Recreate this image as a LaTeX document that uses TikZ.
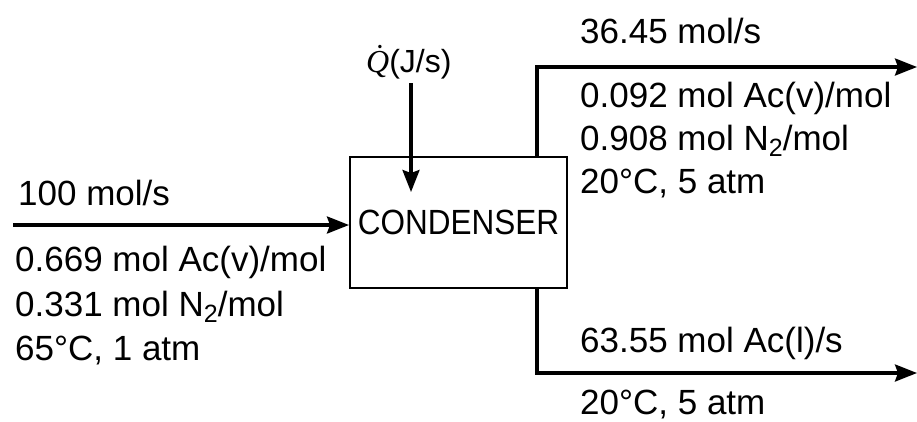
\documentclass[tikz,border=0pt]{standalone}
\usepackage{fontspec}
\setmainfont{Liberation Sans}
\newfontfamily\condfont[FakeStretch=0.9]{Liberation Sans}
\newfontfamily\qfont{Liberation Serif}
\usetikzlibrary{arrows.meta}
\tikzset{
  lbl/.style={anchor=base west, inner sep=0pt, font=\fontsize{35}{35}\selectfont},
  unitbox/.style={draw, line width=2pt, minimum width=217pt, minimum height=131pt, inner sep=0pt, font=\condfont\fontsize{35}{35}\selectfont},
  stream/.style={line width=3.2pt, -{Stealth[length=22pt,width=17pt,inset=3pt]}},
}
\newcommand{\subtwo}{\raisebox{-0.35ex}{\fontsize{25}{25}\selectfont 2}}
\begin{document}
\begin{tikzpicture}[x=1pt,y=-1pt]
\useasboundingbox (0,0) rectangle (917,421);
% unit
\node[unitbox] (cond) at (458.5,222.5) {CONDENSER};
% heat input
\node[anchor=base west, inner sep=0pt, font=\fontsize{32}{32}\selectfont] (qlab) at (366,72) {{\qfont\itshape\.{Q}}(J/s)};
\coordinate (qs) at (411,83);
\coordinate (qt) at (411,192);
\draw[stream] (qs) -- (qt);
% inlet
\coordinate (in) at (13,225);
\draw[stream] (in) -- (in -| cond.west);
\node[lbl] (f0) at (18,205) {100 mol/s};
\node[lbl] (f1) at (15,271) {0.669 mol Ac(v)/mol};
\node[lbl] (f2) at (15,316) {0.331 mol N\subtwo/mol};
\node[lbl] (f3) at (15,360) {65°C, 1 atm};
% top outlet
\coordinate (vt) at (537,67);
\coordinate (topend) at (917,67);
\draw[stream] (vt |- cond.north) -- (vt) -- (topend);
\node[lbl] (g0) at (580,43) {36.45 mol/s};
\node[lbl] (g1) at (580,107) {0.092 mol Ac(v)/mol};
\node[lbl] (g2) at (580,150) {0.908 mol N\subtwo/mol};
\node[lbl] (g3) at (580,193) {20°C, 5 atm};
% bottom outlet
\coordinate (vb) at (537,373);
\coordinate (botend) at (917,373);
\draw[stream] (vb |- cond.south) -- (vb) -- (botend);
\node[lbl] (h0) at (580,352) {63.55 mol Ac(l)/s};
\node[lbl] (h1) at (580,414) {20°C, 5 atm};
\end{tikzpicture}
\end{document}
